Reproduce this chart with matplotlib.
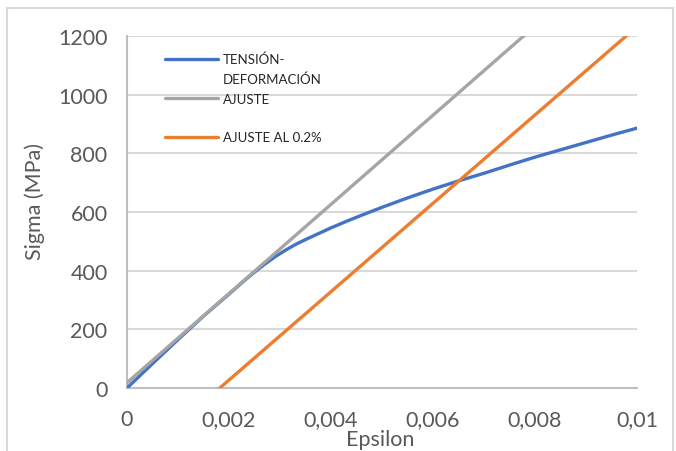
import matplotlib
matplotlib.use("Agg")
import matplotlib.pyplot as plt
from matplotlib.lines import Line2D
from matplotlib.patches import Rectangle

plt.rcParams['font.family'] = ['Lato', 'DejaVu Sans']

# ---- data ----
blue_x = [0.0, 0.0005, 0.001, 0.0015, 0.002, 0.0023, 0.0025, 0.0027, 0.0029,
          0.0031, 0.0033, 0.0035, 0.0038, 0.004, 0.0043, 0.0046, 0.005,
          0.0055, 0.006, 0.0065, 0.007, 0.0075, 0.008, 0.0085, 0.009,
          0.0095, 0.01]
blue_y = [0, 83, 165, 245, 320, 366, 395, 422, 447,
          469, 489, 506, 530, 546, 568, 589, 616,
          648, 678, 706, 732, 760, 787, 812, 837,
          862, 886]
gray_x = [0.0, 0.0080]
gray_y = [18, 1234]
orange_x = [0.00182, 0.0100]
orange_y = [0, 1232]

x_ticks = [0, 0.002, 0.004, 0.006, 0.008, 0.01]
x_ticklabels = ['0', '0,002', '0,004', '0,006', '0,008', '0,01']
y_ticks = [0, 200, 400, 600, 800, 1000, 1200]
y_ticklabels = ['0', '200', '400', '600', '800', '1000', '1200']
legend_labels = ['TENSIÓN-', 'DEFORMACIÓN', 'AJUSTE', 'AJUSTE AL 0.2%']

BLUE = '#4472C4'
GRAY = '#A5A5A5'
ORANGE = '#ED7D31'
TXT = '#595959'

W, H = 676, 452
fig = plt.figure(figsize=(W / 100, H / 100), dpi=100)

# outer chart border
fig.patches.append(Rectangle((7 / W, -0.05), (673 - 7) / W, 1.05 - 9 / H,
                             transform=fig.transFigure, fill=False,
                             edgecolor='#D9D9D9', linewidth=1.5))

ax = fig.add_axes([127 / W, 1 - 389 / H, (637 - 127) / W, (389 - 37) / H])
ax.set_xlim(0, 0.01)
ax.set_ylim(0, 1200)

for s in ['top', 'right']:
    ax.spines[s].set_visible(False)
for s in ['left', 'bottom']:
    ax.spines[s].set_color('#BFBFBF')
    ax.spines[s].set_linewidth(1.5)

ax.set_yticks(y_ticks)
ax.set_yticklabels(y_ticklabels)
ax.set_xticks(x_ticks)
ax.set_xticklabels(x_ticklabels)
ax.tick_params(axis='both', length=0, labelsize=15.5, labelcolor=TXT)
ax.tick_params(axis='y', pad=14)
ax.tick_params(axis='x', pad=15)
ax.yaxis.grid(True, color='#D9D9D9', linewidth=1.5)
ax.set_axisbelow(True)

ax.plot(blue_x, blue_y, color=BLUE, linewidth=2.4, solid_joinstyle='round', zorder=3)
ax.plot(gray_x, gray_y, color=GRAY, linewidth=2.4, zorder=4)
ax.plot(orange_x, orange_y, color=ORANGE, linewidth=2.4, zorder=4)

# legend (manual, Excel-like layout)
def ax_x(px):
    return (px - 127) / 510
def ax_y(py):
    return (389 - py) / 352

for col, py in [(BLUE, 60), (GRAY, 99), (ORANGE, 138)]:
    ax.add_line(Line2D([ax_x(165), ax_x(218)], [ax_y(py), ax_y(py)],
                       transform=ax.transAxes, color=col, linewidth=2.4,
                       solid_capstyle='round', clip_on=False))
for lab, py in zip(legend_labels, [60, 80, 100, 138]):
    ax.text(ax_x(223), ax_y(py), lab, transform=ax.transAxes, fontsize=9.5,
            color='#262626', va='center', ha='left')

fig.text(380 / W, 1 - 440 / H, 'Epsilon', fontsize=15.5, color=TXT,
         ha='center', va='center')
fig.text(35 / W, 1 - 201 / H, 'Sigma (MPa)', fontsize=15.5, color=TXT,
         ha='center', va='center', rotation=90)

fig.savefig('out.png', dpi=100)
